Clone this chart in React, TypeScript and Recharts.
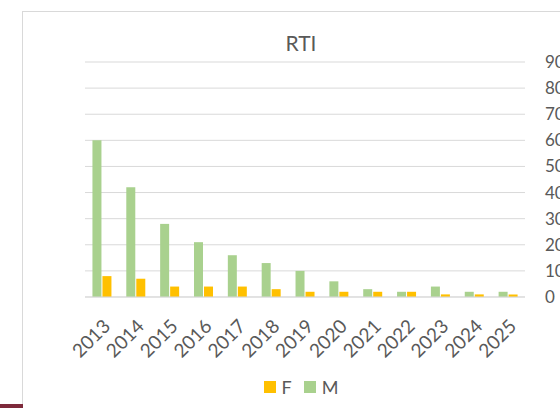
import React from 'react';
import { BarChart, Bar, XAxis, YAxis, CartesianGrid } from 'recharts';

const years = ['2013', '2014', '2015', '2016', '2017', '2018', '2019', '2020', '2021', '2022', '2023', '2024', '2025'];
const maleValues = [60, 42, 28, 21, 16, 13, 10, 6, 3, 2, 4, 2, 2];
const femaleValues = [8, 7, 4, 4, 4, 3, 2, 2, 2, 2, 1, 1, 1];
const yTicks = [0, 10, 20, 30, 40, 50, 60, 70, 80, 90];

const data = years.map((year, i) => ({ year, M: maleValues[i], F: femaleValues[i] }));

const FONT = 'Lato, "Liberation Sans", sans-serif';
const TEXT = '#595959';

// legend lists F before M, unlike the series order
const legendItems = [
  { name: 'F', color: '#FFC000' },
  { name: 'M', color: '#A9D18E' },
];

const App: React.FC = () => {
  return (
    <div style={{ position: 'fixed', left: 0, top: 0, width: 560, height: 408, background: '#fff', overflow: 'hidden' }}>
      {/* chart frame */}
      <div style={{ position: 'absolute', left: 22, top: 11, width: 600, height: 420, border: '1px solid #d9d9d9' }} />
      <div style={{ position: 'absolute', left: 0, top: 404, width: 23, height: 4, background: '#7e2a3b' }} />
      <div
        style={{
          position: 'absolute',
          left: 0,
          width: 602,
          top: 30,
          textAlign: 'center',
          fontFamily: FONT,
          fontSize: 21,
          color: TEXT,
        }}
      >
        RTI
      </div>
      <BarChart
        width={560}
        height={408}
        data={data}
        margin={{ top: 62, right: 0, bottom: 0, left: 85 }}
        barCategoryGap="22%"
        barGap={1}
        style={{ position: 'absolute', left: 0, top: 0 }}
      >
        <CartesianGrid vertical={false} stroke="#d9d9d9" />
        <XAxis
          dataKey="year"
          axisLine={{ stroke: '#d9d9d9' }}
          tickLine={false}
          interval={0}
          angle={-45}
          textAnchor="end"
          height={111}
          tickMargin={15}
          tick={{ fill: TEXT, fontSize: 19, fontFamily: FONT }}
        />
        <YAxis
          orientation="right"
          domain={[0, 90]}
          ticks={yTicks}
          width={35}
          axisLine={false}
          tickLine={false}
          tickMargin={14}
          tick={{ fill: TEXT, fontSize: 17, fontFamily: FONT }}
        />
        <Bar dataKey="M" fill="#A9D18E" isAnimationActive={false} />
        <Bar dataKey="F" fill="#FFC000" isAnimationActive={false} />
      </BarChart>
      {/* legend */}
      <div
        style={{
          position: 'absolute',
          left: 0,
          top: 376,
          width: 602,
          display: 'flex',
          justifyContent: 'center',
          gap: 12,
          fontFamily: FONT,
          fontSize: 18,
          color: TEXT,
        }}
      >
        {legendItems.map((item) => (
          <span key={item.name} style={{ display: 'flex', alignItems: 'center', gap: 6 }}>
            <span style={{ width: 12, height: 12, background: item.color, display: 'inline-block' }} />
            {item.name}
          </span>
        ))}
      </div>
    </div>
  );
};

export default App;
